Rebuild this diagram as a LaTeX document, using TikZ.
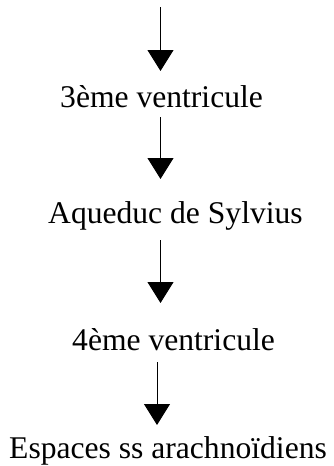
\documentclass[tikz,border=0pt]{standalone}
\usepackage{fontspec}
\setmainfont{Liberation Serif}
\usetikzlibrary{arrows.meta}
\tikzset{
  label/.style={inner sep=0pt, anchor=base west, font=\fontsize{31.6pt}{36pt}\selectfont},
  flow/.style={line width=1pt, -{Triangle[width=26pt, length=21pt]}}
}
\begin{document}
\begin{tikzpicture}[x=1pt, y=-1pt]
  \useasboundingbox (0,0) rectangle (334,466);
  \coordinate (start) at (160.5,7);
  \node[label] (v3) at (60,107) {3ème ventricule};
  \node[label] (aq) at (48,223) {Aqueduc de Sylvius};
  \node[label] (v4) at (72,350) {4ème ventricule};
  \node[label] (esp) at (9,458) {Espaces ss arachnoïdiens};
  % flow of the cerebrospinal fluid
  \draw[flow] (start) -- (start |- 0,71);
  \draw[flow] ([yshift=-10pt]v3.base -| 160.5,0) -- ([yshift=44pt]aq.base -| 160.5,0);
  \draw[flow] ([yshift=-17pt]aq.base -| 160.5,0) -- ([yshift=47pt]v4.base -| 160.5,0);
  \draw[flow] ([yshift=-12pt]v4.base -| 157,0) -- ([yshift=33pt]esp.base -| 157,0);
\end{tikzpicture}
\end{document}
